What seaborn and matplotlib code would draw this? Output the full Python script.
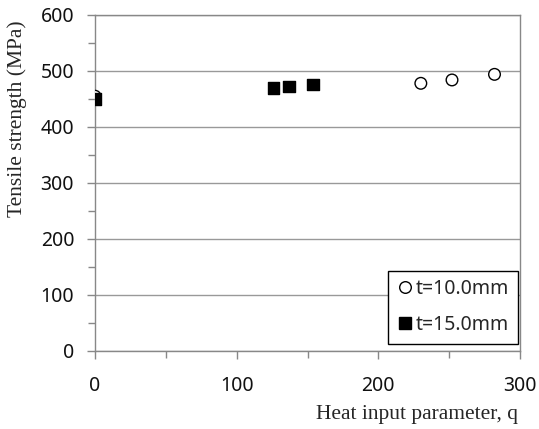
import pandas as pd
import numpy as np
import matplotlib.pyplot as plt
import seaborn as sns

# t = 10.0 mm
q_10 = [0, 230, 252, 282]
ts_10 = [455, 478, 484, 494]
# t = 15.0 mm
q_15 = [0, 126, 137, 154]
ts_15 = [450, 470, 472, 476]

df = pd.DataFrame({
    "q": q_10 + q_15,
    "ts": ts_10 + ts_15,
    "t": ["t=10.0mm"] * len(q_10) + ["t=15.0mm"] * len(q_15),
})

sns.set_style("white")
plt.rcParams["font.family"] = ["Noto Sans", "DejaVu Sans"]

fig = plt.figure(figsize=(5.39, 4.29), dpi=100)
ax = fig.add_axes([95 / 539, 78 / 429, 425 / 539, 336 / 429])

sns.scatterplot(data=df, x="q", y="ts", hue="t", style="t",
                markers={"t=10.0mm": "o", "t=15.0mm": "s"},
                palette={"t=10.0mm": "white", "t=15.0mm": "black"},
                edgecolor="black", s=70, linewidth=1.0, ax=ax, zorder=3)

# open circles need a black edge
for coll in ax.collections:
    coll.set_edgecolor("black")

ax.set_xlim(0, 300)
ax.set_ylim(0, 600)
ax.set_xticks([0, 100, 200, 300])
ax.set_xticks([50, 150, 250], minor=True)
ax.set_yticks(np.arange(0, 601, 100))
ax.set_yticks(np.arange(50, 600, 100), minor=True)
ax.yaxis.grid(True, color="#999999", linewidth=1)
ax.set_axisbelow(True)
for side in ["left", "bottom", "right", "top"]:
    ax.spines[side].set_color("#888888")
    ax.spines[side].set_linewidth(1)
ax.tick_params(which="both", direction="out", color="#888888", length=6, width=1,
               labelsize=14, labelcolor="#111111", bottom=True, left=True)
ax.tick_params(which="minor", length=5)
ax.tick_params(axis="x", pad=12)
ax.tick_params(axis="y", pad=9)

ax.set_xlabel("Heat input parameter, q", family="Liberation Serif", fontsize=15.5)
ax.set_ylabel("Tensile strength (MPa)", family="Liberation Serif", fontsize=15.5)
ax.xaxis.set_label_coords(0.995, -0.1875)
ax.xaxis.label.set_horizontalalignment("right")
ax.xaxis.label.set_verticalalignment("center")
ax.yaxis.set_label_coords(-0.184, 0.69)
ax.yaxis.label.set_verticalalignment("center")

leg = ax.legend(loc="lower right", bbox_to_anchor=(0.995, 0.022), fontsize=14,
                frameon=True, fancybox=False, edgecolor="black", framealpha=1,
                handletextpad=0.1, handlelength=0.9, borderpad=0.45, labelspacing=0.8,
                borderaxespad=0)
leg.get_frame().set_linewidth(1)
for h in leg.legend_handles:
    h.set_markeredgecolor("black")

fig.savefig("out.png", dpi=100)
